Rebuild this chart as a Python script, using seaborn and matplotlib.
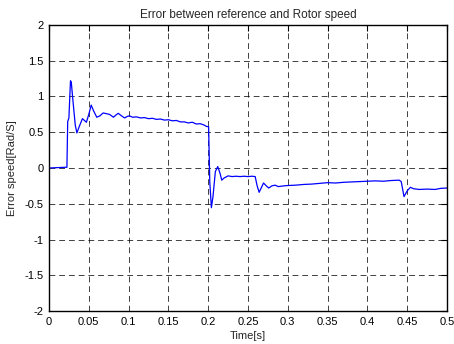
import matplotlib
matplotlib.use("Agg")
import matplotlib.pyplot as plt
import seaborn as sns
import pandas as pd

# Speed error samples (time in seconds, error in rad/s)
time_s = [
    0.000, 0.010, 0.020, 0.0225, 0.0235, 0.025, 0.027, 0.028, 0.030, 0.033,
    0.035, 0.038, 0.042, 0.045, 0.047, 0.050, 0.053, 0.056, 0.060, 0.064,
    0.068, 0.072, 0.076, 0.081, 0.084, 0.087, 0.091, 0.095, 0.098, 0.101,
    0.105, 0.110, 0.115, 0.120, 0.125, 0.130, 0.135, 0.140, 0.145, 0.150,
    0.155, 0.160, 0.165, 0.170, 0.175, 0.180, 0.185, 0.190, 0.195, 0.198,
    0.2005, 0.202, 0.204, 0.206, 0.209, 0.212, 0.215, 0.217, 0.220, 0.225,
    0.230, 0.235, 0.240, 0.245, 0.250, 0.255, 0.259, 0.2615, 0.264, 0.267,
    0.2695, 0.273, 0.276, 0.280, 0.284, 0.288, 0.295, 0.300, 0.310, 0.320,
    0.330, 0.340, 0.350, 0.360, 0.370, 0.380, 0.390, 0.400, 0.410, 0.420,
    0.430, 0.440, 0.4425, 0.446, 0.450, 0.454, 0.458, 0.465, 0.475, 0.485,
    0.492, 0.500,
]
speed_error = [
    0.00, 0.005, 0.01, 0.01, 0.65, 0.70, 1.22, 1.20, 0.95, 0.60,
    0.49, 0.58, 0.69, 0.66, 0.64, 0.75, 0.88, 0.80, 0.71, 0.73,
    0.77, 0.76, 0.75, 0.71, 0.74, 0.765, 0.73, 0.70, 0.72, 0.73,
    0.71, 0.715, 0.70, 0.705, 0.69, 0.695, 0.68, 0.685, 0.67, 0.675,
    0.66, 0.665, 0.645, 0.645, 0.63, 0.64, 0.615, 0.62, 0.60, 0.58,
    0.58, -0.20, -0.555, -0.40, -0.05, 0.02, -0.08, -0.17, -0.14, -0.11,
    -0.12, -0.115, -0.12, -0.115, -0.12, -0.115, -0.12, -0.25, -0.34, -0.27,
    -0.21, -0.25, -0.28, -0.25, -0.24, -0.26, -0.25, -0.245, -0.24, -0.23,
    -0.225, -0.215, -0.205, -0.21, -0.20, -0.195, -0.19, -0.185, -0.18, -0.185,
    -0.175, -0.17, -0.19, -0.40, -0.32, -0.27, -0.29, -0.30, -0.295, -0.30,
    -0.285, -0.28,
]

x_ticks = [0, 0.05, 0.1, 0.15, 0.2, 0.25, 0.3, 0.35, 0.4, 0.45, 0.5]
x_labels = ["0", "0.05", "0.1", "0.15", "0.2", "0.25", "0.3", "0.35", "0.4", "0.45", "0.5"]
y_ticks = [-2, -1.5, -1, -0.5, 0, 0.5, 1, 1.5, 2]
y_labels = ["-2", "-1.5", "-1", "-0.5", "0", "0.5", "1", "1.5", "2"]

sns.set_style("white")
plt.rcParams["font.family"] = ["Liberation Sans", "DejaVu Sans"]

df = pd.DataFrame({"t": time_s, "err": speed_error})

fig = plt.figure(figsize=(4.54, 3.44), dpi=100)
ax = fig.add_axes([49 / 454, 33 / 344, 398 / 454, 286 / 344])

sns.lineplot(data=df, x="t", y="err", ax=ax, color="#0000ff", linewidth=0.9,
             estimator=None, sort=False)

ax.set_xlim(0, 0.5)
ax.set_ylim(-2, 2)
ax.set_xticks(x_ticks)
ax.set_xticklabels(x_labels)
ax.set_yticks(y_ticks)
ax.set_yticklabels(y_labels)

ax.grid(True, color="black", linestyle=(0, (6, 4)), linewidth=0.7, alpha=0.75)
ax.tick_params(direction="in", length=4, width=0.8, labelsize=8, colors="black",
               top=True, right=True, pad=4)
for sp in ax.spines.values():
    sp.set_color("black")
    sp.set_linewidth(1.0)

ax.set_title("Error between reference and Rotor speed", fontsize=8.5, pad=5)
ax.set_xlabel("Time[s]", fontsize=8, labelpad=3)
ax.set_ylabel("Error speed[Rad/S]", fontsize=8, labelpad=5)

fig.savefig("out.png", dpi=100)
